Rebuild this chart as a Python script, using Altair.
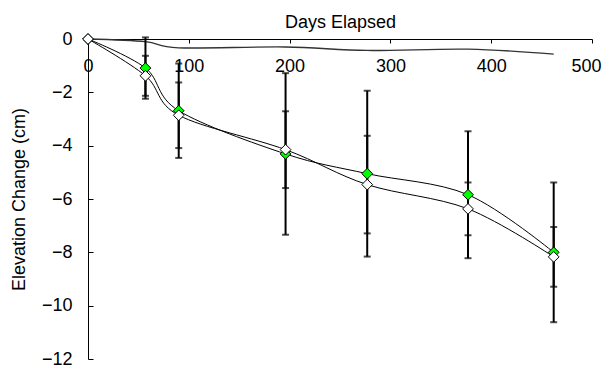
import altair as alt
import pandas as pd

days = [0, 57, 90, 196, 277, 377, 462]
green = [0, -1.09, -2.69, -4.31, -5.05, -5.84, -8.00]
green_err = [0, 1.15, 1.77, 3.03, 3.11, 2.38, 2.62]
white = [0, -1.38, -2.86, -4.15, -5.46, -6.37, -8.17]
white_err = [0, 0.75, 1.23, 1.44, 1.83, 0.99, 1.12]
ref = [0, -0.10, -0.33, -0.30, -0.43, -0.38, -0.57]

x_ticks = [0, 100, 200, 300, 400, 500]
y_ticks = [-12, -10, -8, -6, -4, -2, 0]

rows = []
for name, vals, errs in (("green", green, green_err), ("white", white, white_err)):
    for d, v, e in zip(days, vals, errs):
        rows.append({"day": d, "value": v, "lo": v - e, "hi": v + e, "err": e, "series": name})
df = pd.DataFrame(rows)
df_err = df[df["err"] > 0]
df_ref = pd.DataFrame({"day": days, "value": ref})

FONT = "Liberation Sans"
FS = 18

xscale = alt.Scale(domain=[0, 500], nice=False)
yscale = alt.Scale(domain=[-12, 0], nice=False)

x_enc = alt.X("day:Q", scale=xscale, axis=alt.Axis(
    orient="bottom", offset=-320, values=x_ticks, grid=False, labelFlush=False,
    labelOffset={"condition": {"test": "datum.value >= 500", "value": -6}, "value": 0},
    tickSize=4, tickColor="black", domainColor="black", labelPadding=14,
    labelFont=FONT, labelFontSize=FS, labelColor="black",
    title="Days Elapsed", titleFont=FONT, titleFontSize=FS, titleFontWeight="normal",
    titleColor="black", titleY=-12, titleBaseline="alphabetic"))

y_main = alt.Y("value:Q", scale=yscale, axis=alt.Axis(
    orient="left", values=y_ticks, grid=False, ticks=False, labelFlush=False,
    labelPadding=16, domainColor="black",
    labelFont=FONT, labelFontSize=FS, labelColor="black",
    title="Elevation Change (cm)", titleFont=FONT, titleFontSize=FS,
    titleFontWeight="normal", titleColor="black", titleX=-60))

y_none = alt.Y("value:Q", scale=yscale, axis=None)

ref_line = alt.Chart(df_ref).mark_line(
    interpolate="cardinal", color="#333333", strokeWidth=1.3
).encode(x=x_enc, y=y_main)

lines = alt.Chart(df).mark_line(
    interpolate="cardinal", color="black", strokeWidth=1
).encode(x=x_enc, y=y_none, detail="series:N")

bars = alt.Chart(df_err).mark_rule(color="black", strokeWidth=2).encode(
    x=x_enc,
    y=alt.Y("lo:Q", scale=yscale, axis=alt.Axis(
        orient="left", offset=-5, values=y_ticks, grid=False, labels=False,
        domain=False, tickSize=5, tickColor="black", title=None)),
    y2="hi:Q",
)

caps_lo = alt.Chart(df_err).mark_tick(orient="horizontal", color="black", size=7, thickness=2).encode(
    x=x_enc, y=alt.Y("lo:Q", scale=yscale, axis=None))
caps_hi = alt.Chart(df_err).mark_tick(orient="horizontal", color="black", size=7, thickness=2).encode(
    x=x_enc, y=alt.Y("hi:Q", scale=yscale, axis=None))

pts = alt.Chart(df).mark_point(
    shape="diamond", filled=True, size=115, stroke="black", strokeWidth=1, opacity=1
).encode(
    x=x_enc, y=y_none,
    fill=alt.Fill("series:N", scale=alt.Scale(domain=["green", "white"], range=["#00FF00", "#FFFFFF"]), legend=None),
    order=alt.Order("series:N"),
)

chart = alt.layer(ref_line, lines, bars, caps_lo, caps_hi, pts).resolve_axis(y="independent").properties(
    width=504, height=320,
    background="white",
    autosize=alt.AutoSizeParams(type="none"),
    padding={"left": 80, "top": 31, "right": 10, "bottom": 9},
).configure_view(stroke=None)

chart.save("out.html", embed_options={"renderer": "svg", "actions": False})
